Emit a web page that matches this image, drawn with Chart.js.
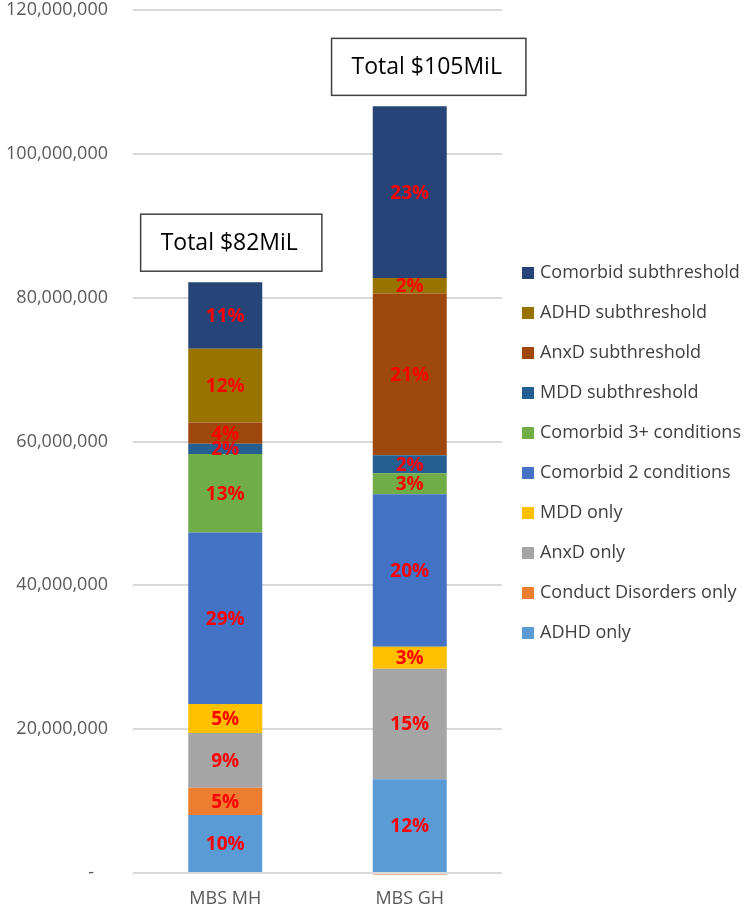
<!DOCTYPE html>
<html>
<head>
<meta charset="utf-8">
<script src="https://cdn.jsdelivr.net/npm/chart.js@4.4.1/dist/chart.umd.min.js"></script>
<style>
  html, body { margin: 0; padding: 0; background: #ffffff; }
  #chart { display: block; }
</style>
</head>
<body>
<canvas id="chart" width="748" height="910"></canvas>
<script>
// categories and series (values in $)
const categories = ["MBS MH", "MBS GH"];
const seriesNames = [
    "ADHD only", "Conduct Disorders only", "AnxD only", "MDD only",
    "Comorbid 2 conditions", "Comorbid 3+ conditions", "MDD subthreshold",
    "AnxD subthreshold", "ADHD subthreshold", "Comorbid subthreshold"
];
const adhdOnly = [8070000, 13030000];
const conductOnly = [3780000, -200000];
const anxdOnly = [7620000, 15380000];
const mddOnly = [4030000, 3060000];
const comorbid2 = [23830000, 21200000];
const comorbid3 = [10940000, 2920000];
const mddSub = [1430000, 2510000];
const anxdSub = [2930000, 22470000];
const adhdSub = [10250000, 2180000];
const comorbidSub = [9270000, 23850000];

// percentage labels as printed on the bars
const adhdOnlyPct = ["10%", "12%"];
const conductOnlyPct = ["5%", ""];
const anxdOnlyPct = ["9%", "15%"];
const mddOnlyPct = ["5%", "3%"];
const comorbid2Pct = ["29%", "20%"];
const comorbid3Pct = ["13%", "3%"];
const mddSubPct = ["2%", "2%"];
const anxdSubPct = ["4%", "21%"];
const adhdSubPct = ["12%", "2%"];
const comorbidSubPct = ["11%", "23%"];

const totalLabels = ["Total $82MiL", "Total $105MiL"];
const yTicks = [0, 20000000, 40000000, 60000000, 80000000, 100000000, 120000000];

const colours = ["#5B9BD5", "#ED7D31", "#A5A5A5", "#FFC000", "#4472C4",
                 "#70AD47", "#255E91", "#9E480E", "#997300", "#264478"];

const seriesValues = [adhdOnly, conductOnly, anxdOnly, mddOnly, comorbid2,
                      comorbid3, mddSub, anxdSub, adhdSub, comorbidSub];
const seriesPct = [adhdOnlyPct, conductOnlyPct, anxdOnlyPct, mddOnlyPct, comorbid2Pct,
                   comorbid3Pct, mddSubPct, anxdSubPct, adhdSubPct, comorbidSubPct];

Chart.defaults.font.family = "'Open Sans', sans-serif";

// red percentages in the middle of every segment
const percentLabels = {
    id: "percentLabels",
    afterDatasetsDraw(chart) {
        const ctx = chart.ctx;
        ctx.save();
        ctx.font = "bold 19px 'Open Sans', sans-serif";
        ctx.fillStyle = "#FF0000";
        ctx.textAlign = "center";
        ctx.textBaseline = "middle";
        chart.data.datasets.forEach((ds, d) => {
            chart.getDatasetMeta(d).data.forEach((bar, i) => {
                const txt = seriesPct[d][i];
                if (!txt) return;
                ctx.fillText(txt, bar.x, (bar.y + bar.base) / 2 + 1);
            });
        });
        ctx.restore();
    }
};

// the "Total" boxes above each bar
const totalBoxes = {
    id: "totalBoxes",
    afterDatasetsDraw(chart) {
        const ctx = chart.ctx;
        const top = chart.getDatasetMeta(chart.data.datasets.length - 1).data;
        const shiftX = [6, 19];
        ctx.save();
        ctx.font = "23px 'Open Sans', sans-serif";
        totalLabels.forEach((txt, i) => {
            const w = ctx.measureText(txt).width + 44;
            const h = 57;
            const cx = top[i].x + shiftX[i];
            const bottom = top[i].y - 11;
            ctx.fillStyle = "#ffffff";
            ctx.fillRect(cx - w / 2, bottom - h, w, h);
            ctx.strokeStyle = "#404040";
            ctx.lineWidth = 1.5;
            ctx.strokeRect(cx - w / 2, bottom - h, w, h);
            ctx.fillStyle = "#000000";
            ctx.textAlign = "center";
            ctx.textBaseline = "middle";
            ctx.fillText(txt, cx - 2, bottom - h / 2 + 1);
        });
        ctx.restore();
    }
};

// legend on the right, top item is the last series
const sideLegend = {
    id: "sideLegend",
    afterDraw(chart) {
        const ctx = chart.ctx;
        ctx.save();
        ctx.font = "18px 'Open Sans', sans-serif";
        ctx.textBaseline = "middle";
        ctx.textAlign = "left";
        const n = chart.data.datasets.length;
        for (let k = 0; k < n; k++) {
            const ds = chart.data.datasets[n - 1 - k];
            const y = 273 + k * 40;
            ctx.fillStyle = ds.backgroundColor;
            ctx.fillRect(522, y - 6, 12, 12);
            ctx.fillStyle = "#404040";
            ctx.fillText(ds.label, 540, y);
        }
        ctx.restore();
    }
};

const datasets = seriesNames.map((name, d) => ({
    label: name,
    data: seriesValues[d],
    backgroundColor: colours[d],
    borderWidth: 0,
    categoryPercentage: 1,
    barPercentage: 0.401,
    clip: false
}));

new Chart(document.getElementById("chart"), {
    type: "bar",
    data: { labels: categories, datasets: datasets },
    options: {
        responsive: false,
        animation: false,
        layout: { padding: { top: 10, right: 246, bottom: 0, left: 0 } },
        plugins: {
            legend: { display: false },
            tooltip: { enabled: false }
        },
        scales: {
            x: {
                stacked: true,
                grid: { display: false, drawTicks: false },
                border: { display: false },
                ticks: { color: "#595959", font: { size: 18 }, padding: 15 },
                afterFit: (scale) => { scale.height = 37; }
            },
            y: {
                stacked: true,
                min: 0,
                max: 120000000,
                afterBuildTicks: (scale) => { scale.ticks = yTicks.map(v => ({ value: v })); },
                grid: { color: "#D9D9D9", lineWidth: 2, drawTicks: false },
                border: { display: false },
                ticks: {
                    color: "#595959",
                    font: { size: 18 },
                    padding: 25,
                    callback: (v) => v === 0 ? "-   " : v.toLocaleString("en-US")
                },
                afterFit: (scale) => {
                    scale.width = 133;
                    scale.paddingTop = 0;
                    scale.paddingBottom = 0;
                }
            }
        }
    },
    plugins: [percentLabels, totalBoxes, sideLegend]
});
</script>
</body>
</html>
